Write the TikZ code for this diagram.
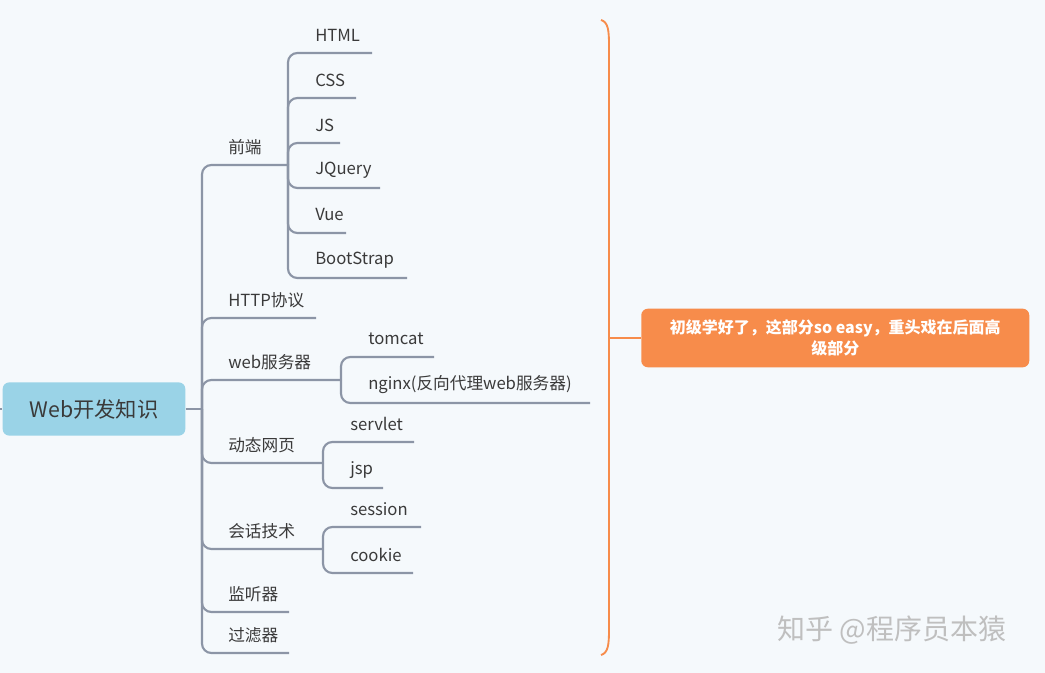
\documentclass[tikz,border=0pt]{standalone}
\usepackage{fontspec}
\setmainfont{Noto Sans CJK SC}
\begin{document}
\begin{tikzpicture}[x=0.75pt,y=-0.75pt,
  ln/.style={draw=lc,line width=1.6pt,rounded corners=7pt},
  lbl/.style={anchor=west,text=tc,font=\fontsize{12.5}{14}\selectfont,inner sep=0pt}]
\definecolor{bg}{HTML}{F5F9FC}
\definecolor{lc}{HTML}{8C95A6}
\definecolor{tc}{HTML}{3A3A3A}
\definecolor{rootc}{HTML}{9AD3E7}
\definecolor{orc}{HTML}{F78C4B}
\fill[bg] (0,0) rectangle (1045,673);
\useasboundingbox (0,0) rectangle (1045,673);
\node[fill=rootc,rounded corners=5pt,minimum width=137pt,minimum height=40pt,text=tc,font=\fontsize{16}{18}\selectfont] (root) at (94,409) {Web开发知识};
\draw[lc,line width=1.6pt] (0,409) -- (root.west);
\coordinate (t) at (202,409);
\draw[lc,line width=1.6pt] (root.east) -- (t);
% level 1
\foreach \n/\y/\e/\txt in {a/165/288/前端,b/318/316/HTTP协议,c/380/341/web服务器,d/463/323/动态网页,e/549/323/会话技术,f/612/289/监听器,g/653/289/过滤器}{
  \coordinate (\n) at (\e,\y);
  \draw[ln] (t) -- (202,\y) -- (\n);
  \node[lbl] (l\n) at (228,\y-18) {\txt};
}
% front end children
\foreach \n/\y/\e/\txt in {a1/53/372/HTML,a2/98/356/CSS,a3/143/340/JS,a4/188/380/JQuery,a5/233/346/Vue,a6/278/407/BootStrap}{
  \coordinate (\n) at (\e,\y);
  \draw[ln] (a) -- (288,\y) -- (\n);
  \node[lbl] (l\n) at (315,\y-18) {\txt};
}
\foreach \n/\y/\e/\txt in {c1/357/434/tomcat,c2/403/590/nginx(反向代理web服务器)}{
  \coordinate (\n) at (\e,\y);
  \draw[ln] (c) -- (341,\y) -- (\n);
  \node[lbl] (l\n) at (368,\y-18) {\txt};
}
\foreach \n/\y/\e/\txt in {d1/442/414/servlet,d2/488/383/jsp}{
  \coordinate (\n) at (\e,\y);
  \draw[ln] (d) -- (323,\y) -- (\n);
  \node[lbl] (l\n) at (350,\y-18) {\txt};
}
\foreach \n/\y/\e/\txt in {e1/527/421/session,e2/573/413/cookie}{
  \coordinate (\n) at (\e,\y);
  \draw[ln] (e) -- (323,\y) -- (\n);
  \node[lbl] (l\n) at (350,\y-18) {\txt};
}
% brace
\coordinate (bt) at (601,20);
\coordinate (bb) at (601,655);
\coordinate (bm) at (628,338);
\draw[orc,line width=1.4pt] (bt) .. controls (608,22) and (609,30) .. (609,45) -- (609,630) .. controls (609,645) and (608,653) .. (bb);
\node[fill=orc,rounded corners=5pt,minimum width=291pt,minimum height=44pt,text=white,align=center,font=\bfseries\fontsize{12}{16}\selectfont,anchor=west] (call) at (641,338) {初级学好了，这部分so easy，重头戏在后面高\\级部分};
\draw[orc,line width=1.4pt] (609,338) -- (call.west);
\node[text=black!25,font=\fontsize{21}{24}\selectfont] (wm) at (892,630) {知乎 @程序员本猿};
\end{tikzpicture}
\end{document}
